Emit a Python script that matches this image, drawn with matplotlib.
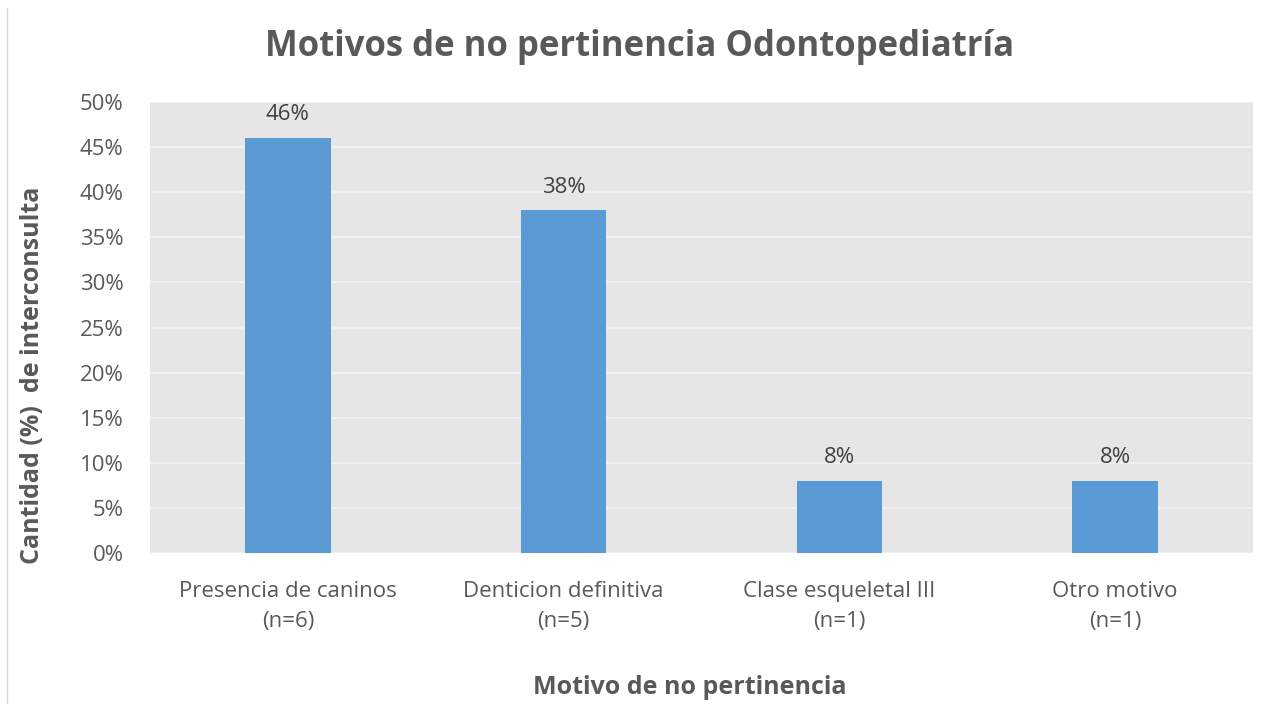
import matplotlib.pyplot as plt
from matplotlib.lines import Line2D

categorias = ['Presencia de caninos\n(n=6)', 'Denticion definitiva\n(n=5)',
              'Clase esqueletal III\n(n=1)', 'Otro motivo\n(n=1)']
porcentajes = [46, 38, 8, 8]
yticks = [0, 5, 10, 15, 20, 25, 30, 35, 40, 45, 50]

gris = '#595959'
plt.rcParams['font.family'] = ['Open Sans', 'DejaVu Sans']

fig = plt.figure(figsize=(12.76, 7.04), dpi=100)
ax = fig.add_axes([150 / 1276, 1 - 553 / 704, 1103 / 1276, 451 / 704])
ax.set_facecolor('#e6e6e6')

x = range(len(categorias))
bars = ax.bar(x, porcentajes, width=0.31, color='#5b9bd5', zorder=3)
for b, v in zip(bars, porcentajes):
    ax.text(b.get_x() + b.get_width() / 2, v + 1.4, f'{v}%', ha='center',
            va='bottom', fontsize=16, color='#404040')

ax.set_xlim(-0.5, len(categorias) - 0.5)
ax.set_ylim(0, 50)
ax.set_yticks(yticks)
ax.set_yticklabels([f'{t}%' for t in yticks])
ax.set_xticks(list(x))
ax.set_xticklabels(categorias, linespacing=1.6)
ax.grid(axis='y', color='#f2f2f2', linewidth=1.2, zorder=0)
for s in ax.spines.values():
    s.set_visible(False)
ax.tick_params(length=0, labelsize=16, labelcolor=gris)
ax.tick_params(axis='x', pad=20)
ax.tick_params(axis='y', pad=19)

fig.text(640 / 1276, 1 - 47 / 704, 'Motivos de no pertinencia Odontopediatría',
         ha='center', va='center', fontsize=25, fontweight='bold', color=gris)
fig.text(33 / 1276, 1 - 375 / 704, 'Cantidad (%)  de interconsulta', rotation=90,
         ha='center', va='center', fontsize=18, fontweight='bold', color=gris)
fig.text(690 / 1276, 1 - 687 / 704, 'Motivo de no pertinencia',
         ha='center', va='center', fontsize=18, fontweight='bold', color=gris)

fig.add_artist(Line2D([7 / 1276, 7 / 1276], [0, 1 - 8 / 704], color='#d9d9d9', linewidth=1))

fig.savefig('out.png', dpi=100)
